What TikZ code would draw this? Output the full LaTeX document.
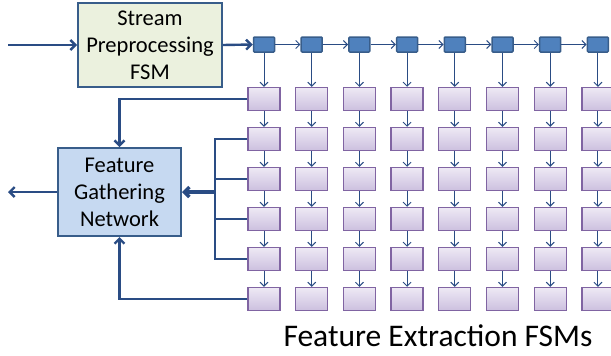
\documentclass[tikz,border=0pt]{standalone}
\usepackage{fontspec}
\setmainfont{Carlito}
\usetikzlibrary{arrows.meta}

\definecolor{linecol}{RGB}{42,76,132}
\definecolor{streamfill}{RGB}{235,241,222}
\definecolor{gatherfill}{RGB}{198,217,241}
\definecolor{sqfill}{RGB}{79,129,189}
\definecolor{sqline}{RGB}{56,93,138}
\definecolor{celltop}{RGB}{238,233,245}
\definecolor{cellbot}{RGB}{204,192,222}
\definecolor{cellline}{RGB}{128,100,162}

\tikzset{
  bigbox/.style={draw=sqline, line width=2pt, align=center, inner sep=0pt,
    font=\fontsize{22.5}{27}\selectfont},
  sqbox/.style={draw=sqline, fill=sqfill, line width=1.5pt, rounded corners=1pt,
    minimum width=21pt, minimum height=15pt, inner sep=0pt},
  cellbox/.style={draw=cellline, line width=1.3pt, top color=celltop,
    bottom color=cellbot, minimum width=32pt, minimum height=23pt, inner sep=0pt},
  thinarr/.style={draw=linecol, line width=1pt, -{Straight Barb[length=4pt,width=8pt]}},
  thickarr/.style={draw=linecol, line width=2.4pt, -{Straight Barb[length=5pt,width=10pt]}},
  bus/.style={draw=linecol, line width=2.4pt}
}

\begin{document}
\begin{tikzpicture}[x=1pt, y=-1pt]
    \useasboundingbox (0,0) rectangle (611,356);
    % Blocchi principali
    \node[bigbox, fill=streamfill, minimum width=144pt, minimum height=84pt]
        (stream) at (150,45) {Stream\\Preprocessing\\FSM};
    \node[bigbox, fill=gatherfill, minimum width=123pt, minimum height=88pt]
        (gather) at (119.5,192) {Feature\\Gathering\\Network};
    % Catena di quadratini e griglia di FSM
    \foreach \i in {1,...,8} {
        \node[sqbox] (sq-\i) at ({264+47.7*(\i-1)},44.5) {};
        \foreach \j in {1,...,6}
            \node[cellbox] (c-\i-\j) at ({264+47.7*(\i-1)},{99+40*(\j-1)}) {};
    }
    % Frecce sottili
    \foreach \i [evaluate=\i as \n using int(\i+1)] in {1,...,7}
        \draw[thinarr] (sq-\i.east) -- (sq-\n.west);
    \foreach \i in {1,...,8} {
        \draw[thinarr] (sq-\i.south) -- (c-\i-1.north);
        \foreach \j [evaluate=\j as \k using int(\j+1)] in {1,...,5}
            \draw[thinarr] (c-\i-\j.south) -- (c-\i-\k.north);
    }
    % Ingresso e uscita
    \coordinate (in) at (8,45);
    \coordinate (out) at (8,192);
    \draw[thickarr] (in) -- (stream.west);
    \draw[thickarr] (stream.east) -- (sq-1.west);
    \draw[thickarr] (gather.west) -- (out);
    % Ritorni verso la rete
    \draw[thickarr] (c-1-1.west) -| (gather.north);
    \draw[thickarr] (c-1-6.west) -| (gather.south);
    % Bus centrale
    \coordinate (busmid) at (215,192);
    \draw[bus] (c-1-2.west) -| (busmid |- c-1-5.west) -- (c-1-5.west);
    \draw[bus] (busmid |- c-1-3.west) -- (c-1-3.west);
    \draw[bus] (busmid |- c-1-4.west) -- (c-1-4.west);
    \draw[thickarr, line width=3.5pt] (busmid) -- (gather.east);
    % Etichetta
    \node[font=\fontsize{31.5}{36}\selectfont] (label) at (438,336) {Feature Extraction FSMs};
\end{tikzpicture}
\end{document}
